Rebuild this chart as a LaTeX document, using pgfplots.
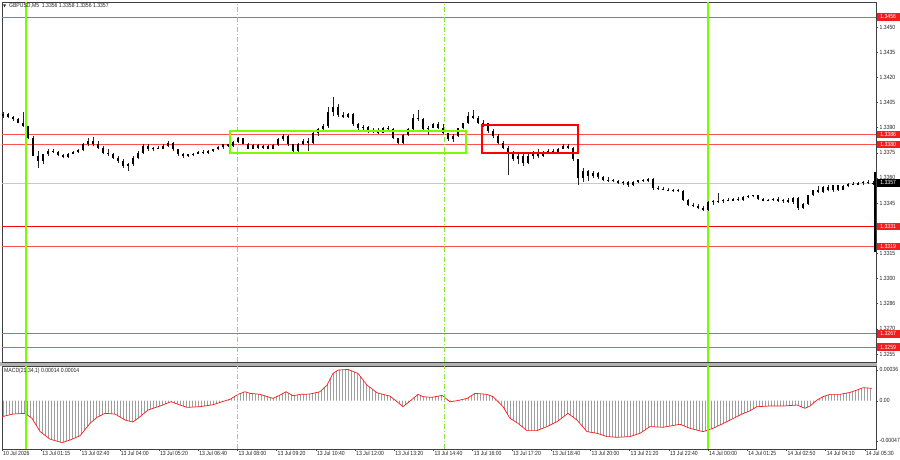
\documentclass[border=0pt]{standalone}
\usepackage{fontspec}
\setmainfont{Liberation Sans}[FakeStretch=0.85]
\newfontfamily\dejavu{DejaVu Sans}
\usepackage{pgfplots}
\pgfplotsset{compat=1.18}
\usepackage{pgfplotstable}
\usetikzlibrary{patterns}
\definecolor{lvl}{HTML}{FF5050}
\definecolor{lvlbox}{HTML}{F01E1E}
\definecolor{lgreen}{HTML}{7CFC00}
\definecolor{dgreen}{HTML}{8CE63C}
\definecolor{cgray}{HTML}{C8C8C8}
\newcommand{\lblfont}{\fontsize{6}{6.5}\selectfont}

\pgfplotstableread{
x o h l c
3 1.3397 1.3399 1.3396 1.3398
8 1.3398 1.33985 1.3396 1.33965
13 1.33965 1.3397 1.3394 1.3395
18 1.3395 1.33955 1.33925 1.3393
23 1.3393 1.3399 1.33905 1.3391
28 1.3391 1.3391 1.3383 1.3384
33 1.3384 1.3385 1.3373 1.3373
38 1.3373 1.3376 1.3366 1.3370
43 1.3370 1.33745 1.3368 1.3374
48 1.3374 1.3377 1.3373 1.3376
53 1.3376 1.3377 1.3375 1.33755
58 1.33755 1.3376 1.3373 1.33735
63 1.33735 1.3374 1.3372 1.33725
68 1.33725 1.3375 1.3372 1.33745
73 1.33745 1.3376 1.3374 1.33755
78 1.33755 1.3377 1.3375 1.33765
83 1.33765 1.3381 1.3376 1.3380
88 1.3380 1.3384 1.3379 1.3382
93 1.3382 1.33845 1.3379 1.3380
98 1.3380 1.3382 1.3377 1.3378
103 1.3378 1.3379 1.3374 1.3375
108 1.3375 1.3377 1.3373 1.3374
113 1.3374 1.3375 1.33715 1.3372
118 1.3372 1.3373 1.3369 1.3370
123 1.3370 1.3371 1.3366 1.3367
128 1.3367 1.3369 1.3364 1.3368
133 1.3368 1.3373 1.3367 1.3372
138 1.3372 1.3376 1.3371 1.3375
143 1.3375 1.3380 1.3374 1.3379
148 1.3379 1.33805 1.3376 1.3377
153 1.3377 1.33785 1.3376 1.3378
158 1.3378 1.3379 1.3377 1.33775
163 1.33775 1.3380 1.3377 1.3379
168 1.3379 1.3382 1.33785 1.3381
173 1.3381 1.33815 1.3376 1.3377
178 1.3377 1.33775 1.3373 1.3374
183 1.3374 1.3375 1.3372 1.3373
188 1.3373 1.33745 1.33725 1.3374
193 1.3374 1.3375 1.3373 1.33745
198 1.33745 1.3376 1.3374 1.33755
203 1.33755 1.33765 1.33745 1.3375
208 1.3375 1.33765 1.33745 1.3376
213 1.3376 1.33775 1.33755 1.3377
218 1.3377 1.3379 1.33765 1.33785
223 1.33785 1.33805 1.33775 1.3380
228 1.3380 1.33805 1.33785 1.3379
233 1.3379 1.3382 1.33785 1.33815
238 1.33815 1.33845 1.3381 1.33835
243 1.33835 1.3384 1.3380 1.33805
248 1.33805 1.3381 1.3377 1.33775
253 1.33775 1.3380 1.3377 1.33795
258 1.33795 1.3380 1.33775 1.3378
263 1.3378 1.33795 1.33775 1.3379
268 1.3379 1.33795 1.3377 1.33775
273 1.33775 1.3380 1.3377 1.33795
278 1.33795 1.3384 1.3379 1.3383
283 1.3383 1.3386 1.3382 1.3385
288 1.3385 1.33855 1.3379 1.3380
293 1.3380 1.33805 1.33745 1.3376
298 1.3376 1.3381 1.33755 1.33805
303 1.33805 1.3383 1.33795 1.3382
308 1.3382 1.33835 1.3376 1.3381
313 1.3381 1.3388 1.33805 1.3387
318 1.3387 1.3390 1.3385 1.3389
323 1.3389 1.3392 1.3388 1.3391
328 1.3391 1.3402 1.3390 1.3399
333 1.3399 1.3408 1.3397 1.3402
338 1.3402 1.3404 1.33965 1.33975
343 1.33975 1.3399 1.33955 1.33965
348 1.33965 1.33985 1.33955 1.3398
353 1.3398 1.33985 1.3391 1.3392
358 1.3392 1.3393 1.33885 1.33895
363 1.33895 1.33915 1.3388 1.33905
368 1.33905 1.3391 1.33865 1.33875
373 1.33875 1.33895 1.33865 1.33885
378 1.33885 1.33895 1.3386 1.3387
383 1.3387 1.33905 1.33865 1.3390
388 1.3390 1.3391 1.3388 1.3389
393 1.3389 1.33895 1.3383 1.33835
398 1.33835 1.3384 1.3380 1.3381
403 1.3381 1.3386 1.33805 1.33855
408 1.33855 1.3390 1.3385 1.3389
413 1.3389 1.3398 1.33885 1.3396
418 1.3396 1.34005 1.3394 1.3395
423 1.3395 1.33955 1.3388 1.3389
428 1.3389 1.3391 1.33855 1.3390
433 1.3390 1.3393 1.33895 1.3392
438 1.3392 1.33935 1.3389 1.3390
443 1.3390 1.3392 1.3386 1.33865
448 1.33865 1.3387 1.3382 1.3383
453 1.3383 1.3386 1.33815 1.3385
458 1.3385 1.3390 1.33845 1.33895
463 1.33895 1.3393 1.3389 1.33925
468 1.33925 1.3399 1.3392 1.3397
473 1.3397 1.34005 1.3395 1.3396
478 1.3396 1.3397 1.3392 1.3393
483 1.3393 1.33945 1.33905 1.33925
488 1.33925 1.3393 1.3387 1.3388
493 1.3388 1.3389 1.3384 1.3385
498 1.3385 1.3386 1.3380 1.3381
503 1.3381 1.3382 1.3377 1.3378
508 1.3378 1.3379 1.33615 1.3375
513 1.3375 1.3376 1.3370 1.3371
518 1.3371 1.3374 1.3368 1.3373
523 1.3373 1.33745 1.3367 1.3369
528 1.3369 1.3374 1.3368 1.3373
533 1.3373 1.3376 1.3371 1.33755
538 1.33755 1.3377 1.3372 1.3373
543 1.3373 1.3376 1.33725 1.33755
548 1.33755 1.3377 1.3374 1.3376
553 1.3376 1.3377 1.3375 1.33755
558 1.33755 1.3378 1.3375 1.33775
563 1.33775 1.3380 1.3377 1.3379
568 1.3379 1.33805 1.3377 1.3378
573 1.3378 1.33785 1.3370 1.3371
578 1.3371 1.33715 1.3356 1.3360
583 1.3360 1.3366 1.33575 1.3364
588 1.3364 1.3365 1.3358 1.3361
593 1.3361 1.3364 1.3360 1.3363
598 1.3363 1.33635 1.33595 1.33605
603 1.33605 1.3361 1.3358 1.3359
608 1.3359 1.33605 1.33575 1.33585
613 1.33585 1.33595 1.33575 1.3358
618 1.3358 1.3359 1.33565 1.3357
623 1.3357 1.3358 1.3356 1.33575
628 1.33575 1.3358 1.33545 1.33555
633 1.33555 1.3358 1.3355 1.33575
638 1.33575 1.3359 1.3357 1.33585
643 1.33585 1.33595 1.33575 1.3358
648 1.3358 1.3360 1.33575 1.33595
653 1.33595 1.3360 1.3353 1.3354
658 1.3354 1.3355 1.33525 1.33535
663 1.33535 1.33545 1.33525 1.3353
668 1.3353 1.3354 1.3352 1.33525
673 1.33525 1.33535 1.33515 1.3353
678 1.3353 1.33535 1.33515 1.3352
683 1.3352 1.33525 1.33465 1.3347
688 1.3347 1.33475 1.3343 1.3344
693 1.3344 1.3345 1.33425 1.33435
698 1.33435 1.33445 1.33415 1.3342
703 1.3342 1.33435 1.3340 1.3341
708 1.3341 1.3346 1.33405 1.33455
713 1.33455 1.3347 1.3344 1.33465
718 1.33465 1.3351 1.3345 1.3346
723 1.3346 1.33475 1.3345 1.3347
728 1.3347 1.3348 1.3346 1.33465
733 1.33465 1.3348 1.3346 1.33475
738 1.33475 1.33485 1.33465 1.3347
743 1.3347 1.3349 1.33465 1.33485
748 1.33485 1.33495 1.3348 1.3349
753 1.3349 1.3350 1.33485 1.33495
758 1.33495 1.3350 1.3347 1.33475
763 1.33475 1.3348 1.3346 1.33465
768 1.33465 1.33475 1.3346 1.3347
773 1.3347 1.3348 1.33465 1.33475
778 1.33475 1.33485 1.33455 1.3346
783 1.3346 1.33475 1.3345 1.3347
788 1.3347 1.3348 1.3345 1.33455
793 1.33455 1.33485 1.33445 1.3348
798 1.3348 1.33485 1.3341 1.3342
803 1.3342 1.3345 1.33415 1.33445
808 1.33445 1.3350 1.3344 1.33495
813 1.33495 1.3353 1.3349 1.33525
818 1.33525 1.3355 1.3351 1.33515
823 1.33515 1.3355 1.3351 1.33545
828 1.33545 1.33555 1.3352 1.3353
833 1.3353 1.3356 1.33515 1.33555
838 1.33555 1.3356 1.3352 1.3353
843 1.3353 1.33555 1.33525 1.3355
848 1.3355 1.3357 1.33545 1.33565
853 1.33565 1.33575 1.33555 1.3356
858 1.3356 1.33575 1.33555 1.3357
863 1.3357 1.3358 1.3356 1.33575
868 1.33575 1.33585 1.33565 1.3357
873 1.33565 1.3358 1.3356 1.3357
}\candles

\pgfplotstableread{
x m
2 -0.000187
13 -0.000156
25 -0.000148
32 -0.000206
40 -0.00036
50 -0.00045
62 -0.00049
70 -0.00046
80 -0.00041
90 -0.000265
97 -0.000195
105 -0.000148
115 -0.000156
125 -0.000226
133 -0.00025
140 -0.000187
148 -0.000109
160 -0.000062
171 -0.000012
180 -0.00005
187 -0.000078
200 -0.00007
213 -0.000047
222 -0.000012
230 0.000016
238 0.000074
245 0.000105
250 0.000086
260 0.000074
273 0.000027
280 0.000066
286 0.000105
293 0.000058
300 0.000074
310 0.000078
320 0.000105
327 0.000183
333 0.000319
338 0.000358
348 0.000366
358 0.000319
367 0.000183
377 0.000093
387 0.000062
390 0.000054
397 -0.000012
403 -0.00007
410 -0.000004
418 0.000074
423 0.000047
432 0.000039
442 0.000062
450 -0.000012
457 0.0
467 0.000027
475 0.000086
487 0.000074
493 0.000047
503 -0.00007
510 -0.000206
518 -0.000265
527 -0.00035
537 -0.00035
547 -0.000303
557 -0.000245
568 -0.000148
577 -0.000226
587 -0.000362
597 -0.000381
607 -0.00042
617 -0.000428
630 -0.00042
640 -0.000381
650 -0.000303
663 -0.000311
680 -0.000276
690 -0.000323
703 -0.000362
713 -0.000323
727 -0.000245
740 -0.000167
750 -0.000117
757 -0.00007
770 -0.000062
783 -0.000062
797 -0.000051
805 -0.000089
810 -0.000062
817 0.000008
823 0.000047
830 0.000074
840 0.000074
850 0.000097
857 0.000125
863 0.000152
872 0.000145
}\macd

\tikzset{lvlbl/.style={anchor=west, fill=lvlbox, text=white, font=\lblfont, inner xsep=1pt, inner ysep=0.8pt, minimum width=23pt, minimum height=7.5pt, xshift=0.5pt}}

\begin{document}
\begin{tikzpicture}
\fill[white] (0pt,0pt) rectangle (900pt,460pt);
\fill[gray!60] (0pt,94pt) rectangle (877pt,98pt);
\begin{axis}[at={(2pt,98pt)}, anchor=south west, scale only axis,
  width=874pt, height=360pt, xmin=2, xmax=876, ymin=1.32502, ymax=1.34649,
  clip=false, axis line style={black!75, line width=0.7pt},
  xtick=\empty, scaled y ticks=false,
  ytick={1.3450,1.3435,1.3420,1.3405,1.3390,1.3375,1.3360,1.3345,1.3330,1.3315,1.3300,1.3285,1.3270,1.3255},
  yticklabels={1.3450,1.3435,1.3420,1.3405,1.3390,1.3375,1.3360,1.3345,1.3330,1.3315,1.3300,1.3286,1.3270,1.3255},
  ytick pos=right, yticklabel pos=right, tick align=outside, major tick length=2pt,
  tick style={black!70, line width=0.4pt},
  yticklabel style={font=\lblfont, text=black!85, inner xsep=1.5pt}]
 % level lines
 \addplot[lvl, line width=0.8pt] coordinates {(2,1.3456) (876,1.3456)};
 \addplot[lvl, line width=0.8pt] coordinates {(2,1.3386) (876,1.3386)};
 \addplot[lvl, line width=0.8pt] coordinates {(2,1.3380) (876,1.3380)};
 \addplot[red, line width=1.4pt] coordinates {(2,1.3331) (876,1.3331)};
 \addplot[lvl, line width=0.8pt] coordinates {(2,1.3319) (876,1.3319)};
 \addplot[lvl, line width=0.8pt] coordinates {(2,1.3267) (876,1.3267)};
 \addplot[lvl, line width=0.8pt] coordinates {(2,1.3259) (876,1.3259)};
 \addplot[cgray, line width=0.7pt] coordinates {(2,1.3357) (876,1.3357)};
 % vertical markers
 \addplot[lgreen, line width=1.4pt] coordinates {(26,1.32502) (26,1.34649)};
 \addplot[lgreen, line width=1.4pt] coordinates {(708,1.32502) (708,1.34649)};
 \addplot[dgreen, line width=0.5pt, dash pattern=on 5pt off 2pt on 1pt off 2pt] coordinates {(237,1.32502) (237,1.34649)};
 \addplot[dgreen, line width=0.5pt, dash pattern=on 5pt off 2pt on 1pt off 2pt] coordinates {(444,1.32502) (444,1.34649)};
 % candles: wicks (low to high)
 \addplot[black!85, line width=0.6pt, mark=none, line cap=butt,
   quiver={u=0, v=\thisrow{h}-\thisrow{l}}]
   table[x=x, y=l] {\candles};
 % candles: bodies (open to close)
 \addplot[black, line width=1.9pt, mark=none, line cap=butt,
   quiver={u=0, v=\thisrow{c}-\thisrow{o}}]
   table[x=x, y=o] {\candles};
 % right edge bar
 \addplot[black, line width=1.6pt] coordinates {(875,1.33637) (875,1.3316)};
 % boxes
 \draw[lgreen, line width=1.8pt] (axis cs:230,1.33750) rectangle (axis cs:466,1.33881);
 \draw[red, line width=1.8pt] (axis cs:482,1.33750) rectangle (axis cs:578,1.33917);
 \coordinate (lv1) at (axis cs:876,1.3456);
 \coordinate (lv2) at (axis cs:876,1.3386);
 \coordinate (lv3) at (axis cs:876,1.3380);
 \coordinate (lv4) at (axis cs:876,1.3357);
 \coordinate (lv5) at (axis cs:876,1.3331);
 \coordinate (lv6) at (axis cs:876,1.3319);
 \coordinate (lv7) at (axis cs:876,1.3267);
 \coordinate (lv8) at (axis cs:876,1.3259);
\end{axis}

\begin{axis}[at={(2pt,11pt)}, anchor=south west, scale only axis,
  width=874pt, height=83pt, xmin=2, xmax=876, ymin=-0.000565, ymax=0.000406,
  clip=false, axis line style={black!75, line width=0.7pt},
  scaled y ticks=false, scaled x ticks=false,
  ytick={-0.00047,0,0.00036}, yticklabels={-0.00047,0.00,0.00036},
  ytick pos=right, yticklabel pos=right,
  xtick={2,41.2,80.4,119.7,158.9,198.1,237.3,276.5,315.8,355,394.2,433.4,472.6,511.9,551.1,590.3,629.5,668.7,708,747.2,786.4,825.6,864.8},
  xticklabels={10 Jul 2026,13 Jul 01:15,13 Jul 02:40,13 Jul 04:00,13 Jul 05:20,13 Jul 06:40,13 Jul 08:00,13 Jul 09:20,13 Jul 10:40,13 Jul 12:00,13 Jul 13:20,13 Jul 14:40,13 Jul 16:00,13 Jul 17:20,13 Jul 18:40,13 Jul 20:00,13 Jul 21:20,13 Jul 22:40,14 Jul 00:00,14 Jul 01:25,14 Jul 02:50,14 Jul 04:10,14 Jul 05:30},
  xtick pos=bottom, tick align=outside, major tick length=2pt,
  tick style={black!70, line width=0.4pt},
  xticklabel style={font=\lblfont, anchor=north west, inner sep=0.5pt, xshift=0.5pt, yshift=1pt, text=black!85},
  yticklabel style={font=\lblfont, text=black!85, inner xsep=1.5pt}]
 \addplot[draw=none, pattern=vertical lines, pattern color=gray!75] table[x=x, y=m] {\macd} \closedcycle;
 \addplot[red!90!white, line width=0.7pt] table[x=x, y=m] {\macd};
 \addplot[lgreen, line width=1.4pt] coordinates {(26,-0.000565) (26,0.000406)};
 \addplot[lgreen, line width=1.4pt] coordinates {(708,-0.000565) (708,0.000406)};
 \addplot[dgreen, line width=0.5pt, dash pattern=on 5pt off 2pt on 1pt off 2pt] coordinates {(237,-0.000565) (237,0.000406)};
 \addplot[dgreen, line width=0.5pt, dash pattern=on 5pt off 2pt on 1pt off 2pt] coordinates {(444,-0.000565) (444,0.000406)};
\end{axis}

% right-side level labels
\node[lvlbl] at (lv1) {1.3456};
\node[lvlbl] at (lv2) {1.3386};
\node[lvlbl] at (lv3) {1.3380};
\node[lvlbl, fill=black] at (lv4) {1.3357};
\node[lvlbl] at (lv5) {1.3331};
\node[lvlbl] at (lv6) {1.3319};
\node[lvlbl] at (lv7) {1.3267};
\node[lvlbl] at (lv8) {1.3259};

% titles
\node[anchor=west, inner sep=0, font=\lblfont, text=black!85] at (3pt,454pt) {{\dejavu\fontsize{4}{4}\selectfont ▼}\ \ GBPUSD,M5\ \ 1.3356 1.3358 1.3356 1.3357};
\node[anchor=west, inner sep=0, font=\lblfont, text=black!85] at (4pt,89pt) {MACD(21,34,1) 0.00014 0.00014};
\pgfresetboundingbox
\useasboundingbox (0pt,0pt) rectangle (900pt,460pt);
\end{tikzpicture}
\end{document}
